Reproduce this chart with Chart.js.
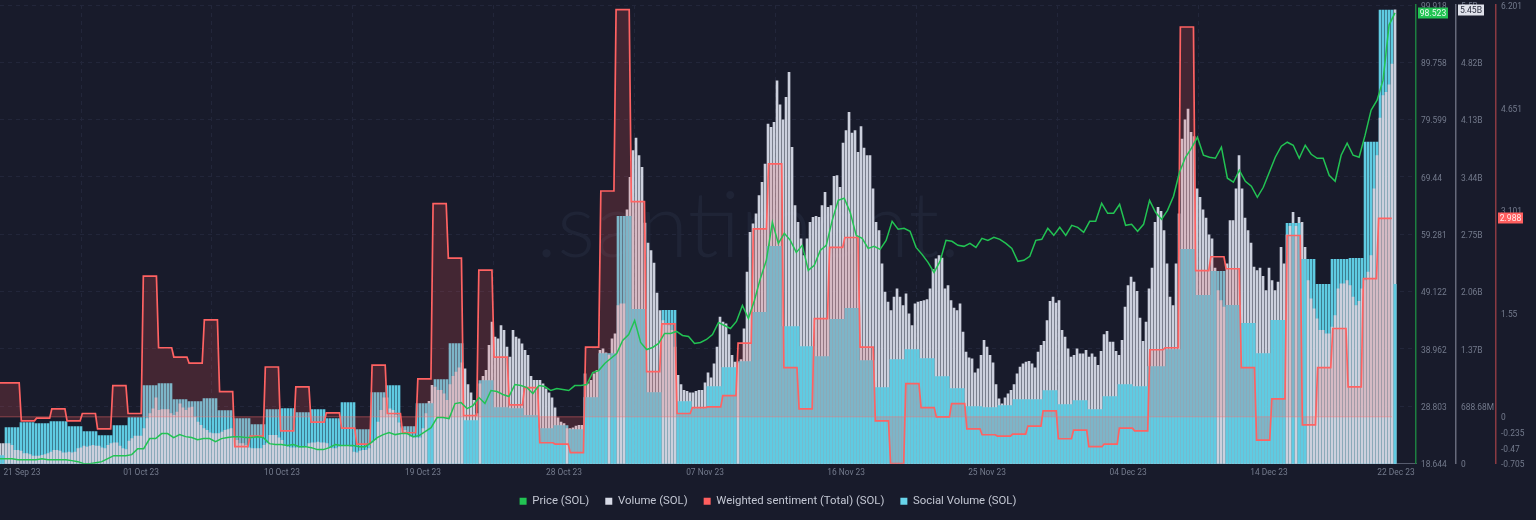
<!DOCTYPE html>
<html><head><meta charset="utf-8">
<style>html,body{margin:0;padding:0;background:#181b2b;overflow:hidden}canvas{display:block;filter:blur(.45px)}</style>
<script src="https://cdn.jsdelivr.net/npm/chart.js@4"></script></head>
<body><canvas id="c" width="1536" height="520"></canvas>
<script>
const seriesNames = ['Price (SOL)','Volume (SOL)','Weighted sentiment (Total) (SOL)','Social Volume (SOL)'];
const xTickDays = [1.44,9.25,18.49,27.74,36.98,46.23,55.48,64.72,73.97,83.21,91.54];
const xTickLabels = ['21 Sep 23','01 Oct 23','10 Oct 23','19 Oct 23','28 Oct 23','07 Nov 23','16 Nov 23','25 Nov 23','04 Dec 23','14 Dec 23','22 Dec 23'];
const priceTicks = [18.644,28.803,38.962,49.122,59.281,69.44,79.599,89.758,99.918];
const priceTickLabels = ['18.644','28.803','38.962','49.122','59.281','69.44','79.599','89.758','99.918'];
const volumeTicks = [0,0.68868,1.37736,2.06604,2.75472,3.4434,4.13208,4.82076,5.50944];
const volumeTickLabels = ['0','688.68M','1.37B','2.06B','2.75B','3.44B','4.13B','4.82B','5.5B'];
const sentimentTicks = [-0.705,-0.47,-0.235,0,1.55,3.101,4.651,6.201];
const sentimentTickLabels = ['-0.705','-0.47','-0.235','0','1.55','3.101','4.651','6.201'];
const lastPrice = 98.523, lastVolume = 5.45, lastSentiment = 2.988;

// Price, USD, evenly sampled over the period
const price = [19.53,19.53,19.53,19.35,19.35,19.35,19.35,19.53,19.35,19.35,19.35,19.35,19.18,19.00,18.64,18.64,18.82,19.00,19.53,20.06,20.06,20.06,20.24,21.30,21.30,23.08,23.08,23.97,23.97,23.26,23.79,23.43,23.26,22.90,23.08,23.08,22.55,23.08,23.26,23.43,23.43,
23.26,23.26,23.43,23.26,22.19,22.02,22.02,21.84,22.02,21.66,21.66,21.48,21.13,21.13,21.48,22.02,21.84,21.84,21.84,21.66,21.66,
22.37,23.26,23.79,24.14,23.79,23.97,23.97,23.43,23.61,24.32,25.03,26.81,26.81,26.63,29.29,29.47,28.40,28.94,30.36,
29.29,31.60,31.42,30.89,30.53,32.66,32.48,32.13,31.07,32.48,32.31,31.60,31.95,31.78,31.60,32.48,32.48,32.66,34.79,35.15,36.39,37.28,38.16,40.47,41.53,44.02,40.11,38.87,39.23,39.94,41.71,41.71,42.07,41.36,41.18,39.94,40.11,40.65,41.53,43.66,
43.13,42.60,43.84,46.68,44.37,47.57,51.47,54.67,61.41,57.68,59.46,58.21,56.08,57.33,52.89,53.78,56.44,57.33,61.76,65.31,65.67,63.18,59.10,58.57,56.79,57.15,56.62,58.21,61.59,60.17,60.34,59.81,56.97,55.73,54.31,52.54,54.49,58.21,58.04,57.33,
57.15,57.68,56.97,58.57,58.21,58.75,58.39,57.68,56.79,54.49,54.67,55.38,58.21,58.39,60.34,59.10,60.52,59.10,60.88,60.52,59.63,61.59,61.59,64.78,63.01,63.01,64.60,60.88,61.05,59.81,61.05,65.31,63.18,61.94,63.54,
66.02,70.28,72.94,74.54,76.49,73.30,72.94,72.76,74.72,69.22,68.51,70.63,68.68,67.80,65.84,67.62,70.28,72.94,74.89,75.60,75.07,72.76,75.07,73.47,72.76,72.76,69.75,68.68,73.30,75.43,73.30,72.94,76.85,81.28,83.06,86.60,96.36,98.523];

// Volume, billions
const volume = [.24,.24,.24,.24,.22,.16,.16,.15,.12,.12,.11,.09,.09,.09,.10,.11,.12,.14,.16,.16,.15,.13,.13,.14,.13,.14,.18,.19,.21,.20,.21,.22,.21,.21,.19,.18,.22,.24,.25,.25,.21,.18,.17,.27,.30,.33,.33,.33,.42,.54,
.60,.66,.79,.64,.65,.65,.65,.60,.58,.62,.72,.67,.64,.67,.68,.56,.50,.46,.42,.40,.37,.36,.36,.36,.38,.40,.41,.42,.31,.28,.24,.24,.22,.19,.18,.18,.18,.18,.22,.24,.34,.34,.34,.31,.28,.21,
.20,.19,.19,.19,.19,.19,.20,.24,.25,.25,.26,.25,.25,.24,.19,.18,.18,.20,.22,.22,.22,.20,.14,.13,.15,.16,.16,.18,.25,.28,.50,.64,.79,.79,.66,.64,.58,.49,.43,.40,.36,.32,.31,.31,.31,.42,
.60,.75,.94,.92,.88,.88,.84,.76,.95,1.05,1.10,1.15,1.21,1.14,.95,.85,.76,.60,.96,1.05,1.12,1.42,1.70,1.52,1.50,1.66,1.60,1.40,1.28,1.60,1.52,1.50,1.44,1.36,1.30,1.05,1.0,1.0,1.0,.96,.90,.85,.79,.67,.55,.50,
.48,.42,.42,.43,.45,.46,.46,1.08,.96,1.0,1.08,1.12,1.36,1.38,1.33,1.30,1.50,1.56,1.90,1.92,1.92,3.05,3.44,3.76,3.91,3.70,3.56,2.89,2.65,2.56,2.41,2.05,1.84,1.72,1.68,1.66,1.60,1.40,1.06,.95,.88,.87,.85,.85,.87,.88,.88,.97,1.09,1.03,1.20,
1.40,1.76,1.70,1.68,1.55,1.30,1.22,1.21,1.25,1.62,2.30,2.78,2.88,3.0,3.22,3.38,3.6,4.08,4.04,4.1,4.6,4.31,4.13,4.4,4.70,3.8,3.1,2.9,2.7,2.5,2.7,2.9,2.96,2.97,2.96,3.1,3.26,3.08,3.1,3.45,3.46,3.32,3.85,4.0,4.22,3.97,4.0,3.74,4.05,3.79,3.7,3.7,3.3,2.9,2.8,
2.4,2.06,1.94,1.84,2.0,2.1,2.0,1.9,2.04,1.8,1.66,1.92,1.94,1.95,1.96,1.97,2.1,2.33,2.46,2.5,2.47,2.1,2.14,1.96,1.87,1.84,1.92,1.58,1.34,1.27,1.26,1.09,1.14,1.30,1.48,1.40,1.30,1.21,.95,.78,.72,.79,.84,.88,.95,1.08,1.16,1.20,1.22,1.23,
1.20,1.15,1.34,1.42,1.47,1.72,1.95,2.0,1.93,1.96,1.6,1.52,1.38,1.28,1.3,1.38,1.32,1.32,1.36,1.28,1.32,1.28,1.18,1.35,1.55,1.59,1.46,1.46,1.35,1.30,1.48,1.88,2.14,2.24,2.18,2.07,1.75,1.47,1.7,2.1,2.35,2.9,3.08,3.03,2.8,
2.4,2.0,1.9,2.4,3.0,3.9,4.13,4.26,3.98,3.93,3.3,3.2,3.05,2.95,2.75,2.7,2.35,2.08,1.96,1.88,2.4,2.92,2.92,3.3,3.7,3.3,2.95,2.8,2.65,2.36,2.32,2.35,2.25,2.08,2.35,2.2,2.08,2.18,2.6,2.4,2.75,2.85,3.02,2.85,2.96,2.9,2.6,2.2,1.98,1.86,
1.74,1.60,1.6,1.56,1.56,1.64,1.78,2.1,2.16,2.16,2.2,2.14,2.0,1.9,1.95,2.1,2.2,2.3,2.5,3.3,3.7,4.15,4.42,4.46,4.55,4.8,5.45];

// Weighted sentiment, one value per day block
const sentiment = [.51,.51,-.06,-.02,.12,-.06,.05,-.18,.47,.05,2.12,1.04,.90,.81,1.46,.38,-.45,-.29,.75,-.21,.45,-.08,.06,-.17,-.41,.78,.05,-.24,.57,3.21,2.39,.02,2.21,.90,.18,.44,-.39,-.41,-.54,1.05,3.40,6.13,3.24,.68,1.40,.05,.14,.15,.32,1.11,2.83,3.81,.74,.12,1.48,2.55,2.70,1.05,-.06,-.705,.50,.14,0,.20,-.18,-.27,-.29,-.26,-.14,.09,-.33,-.20,-.45,-.41,-.17,-.21,1.01,1.04,5.87,2.20,2.41,2.23,.74,-.35,.27,2.73,-.12,.74,1.33,.45,2.08,2.988];

// Social volume, one value per day block (relative units, axis hidden in the source)
const socialVolume = [8,36,41,40,42,37,32,28,38,46,78,80,64,62,65,53,45,39,54,55,51,54,45,61,34,71,78,37,60,84,120,43,83,56,55,48,35,38,34,66,110,247,154,71,153,62,55,77,96,102,151,217,137,117,107,144,155,103,76,104,114,105,87,75,57,56,58,64,64,73,59,63,54,67,79,77,97,114,214,168,192,158,140,110,143,240,204,179,204,205,321,453,179];
const socialMax = 458;

const barStepDays = 3/15.25, firstBlockDays = 0.328, xMaxDays = 92.85;
const barDays = volume.map((_,i)=>i*barStepDays);
const spanDays = barDays[barDays.length-1];
const blockStart = i => i===0 ? 0 : firstBlockDays + i - 1;
const blockOf = d => d < firstBlockDays ? 0 : Math.min(socialVolume.length-1, Math.floor(d-firstBlockDays)+1);

const volumeMax = volumeTicks[volumeTicks.length-1];
const socialAt = barDays.map(d=>socialVolume[blockOf(d)]);
const volumePts = barDays.map((d,i)=>({x:d,y:volume[i]}));
const socialBackPts = barDays.map((d,i)=>({x:d,y:socialAt[i]}));
const socialFrontPts = barDays.map((d,i)=>({x:d,y:(socialAt[i]/socialMax < volume[i]/volumeMax) ? socialAt[i] : null}));
const pricePts = price.map((v,i)=>({x:i*spanDays/(price.length-1),y:v}));
const sentimentPts = sentiment.flatMap((v,i)=>[{x:blockStart(i)+(i===0?0:.07),y:v},{x:blockStart(i+1)-.07,y:v}]);
const zeroPts = [{x:0,y:0},{x:spanDays-.2,y:0}];

const colPrice='#22c353', colVolume='#ccd0dd', colSent='#ff6262', colSocial='#5fcbe2';
const legendColors=[colPrice,'#d7dae6','#ff5f5f','#68d4ea'];
const tickFont={family:'Roboto',size:8.4}, tickColor='#737a8c';

const fixedTicks=(values)=>function(s){s.ticks=values.map(v=>({value:v}));};
const rightAxis=(values,labels,min,max,weight,borderColor,extra)=>Object.assign({
  type:'linear',position:'right',min,max,weight,
  afterBuildTicks:fixedTicks(values),
  afterFit:s=>{s.width=40;s.paddingTop=0;s.paddingBottom=0;},
  ticks:{autoSkip:false,font:tickFont,color:tickColor,padding:5,labelOffset:1.5,
    callback:v=>{const i=values.indexOf(v);return i>=0?labels[i]:'';}},
  grid:{display:false,drawTicks:false},
  border:{display:true,color:borderColor,width:1.5}
},extra||{});

const overlay={id:'overlay',
  beforeDraw(chart){
    const {ctx}=chart;ctx.save();
    ctx.fillStyle='#1f2436';ctx.font='300 90px Lato';ctx.textBaseline='alphabetic';ctx.textAlign='left';
    ctx.fillText('.santiment.',536,257);ctx.restore();
  },
  afterDraw(chart){
    const {ctx,scales}=chart;
    const badge=(x,w,y,bg,fg,text)=>{ctx.fillStyle=bg;ctx.fillRect(x,Math.round(y)-5.5,w,11);
      ctx.fillStyle=fg;ctx.font='8.6px Roboto';ctx.textAlign='center';ctx.textBaseline='middle';ctx.fillText(text,x+w/2,Math.round(y)+.5);};
    ctx.save();
    badge(1418,30,scales.price.getPixelForValue(lastPrice),'#22c353','#e9fbef',String(lastPrice));
    badge(1458,26,scales.vol.getPixelForValue(lastVolume),'#dfe1ea','#2a2d3d',lastVolume+'B');
    badge(1498,25,scales.sent.getPixelForValue(lastSentiment),'#ff5f5f','#ffecec',String(lastSentiment));
    ctx.restore();
  }};

new Chart(document.getElementById('c'),{
  data:{datasets:[
    {type:'line',label:seriesNames[0],data:pricePts,xAxisID:'x',yAxisID:'price',borderColor:colPrice,backgroundColor:colPrice,borderWidth:1.5,pointRadius:0,tension:0,order:0},
    {type:'bar',label:seriesNames[1],data:volumePts,xAxisID:'x',yAxisID:'vol',backgroundColor:colVolume,barThickness:2,grouped:false,order:4},
    {type:'line',label:seriesNames[2],data:sentimentPts,xAxisID:'x',yAxisID:'sent',borderColor:colSent,backgroundColor:'rgba(255,91,91,0.19)',borderWidth:1.7,pointRadius:0,tension:0,fill:{value:0},order:2},
    {type:'bar',label:seriesNames[3],data:socialBackPts,xAxisID:'x',yAxisID:'soc',backgroundColor:colSocial,barThickness:2,grouped:false,order:5},
    {type:'bar',label:'',data:socialFrontPts,xAxisID:'x',yAxisID:'soc',backgroundColor:colSocial,barThickness:2,grouped:false,order:3},
    {type:'line',label:'',data:zeroPts,xAxisID:'x',yAxisID:'sent',borderColor:'rgba(255,110,110,0.45)',borderWidth:1,pointRadius:0,order:1}
  ]},
  options:{
    responsive:false,animation:false,devicePixelRatio:1,parsing:true,
    layout:{autoPadding:false,padding:{top:5,left:0,right:0,bottom:3}},
    plugins:{
      tooltip:{enabled:false},
      legend:{position:'bottom',labels:{
        font:{family:'Roboto',size:11.35},color:'#c3c7d3',boxWidth:7,boxHeight:7,padding:16,
        filter:it=>it.text!=='',
        generateLabels:chart=>chart.data.datasets.map((d,i)=>({text:d.label,fillStyle:legendColors[i]||'#000',strokeStyle:'transparent',lineWidth:0,fontColor:'#c3c7d3',datasetIndex:i,hidden:false}))
      }}
    },
    scales:{
      x:{type:'linear',min:0,max:xMaxDays,offset:false,
        afterBuildTicks:fixedTicks(xTickDays),
        afterFit:s=>{s.height=16;s.paddingLeft=0;s.paddingRight=0;},
        ticks:{autoSkip:false,maxRotation:0,font:tickFont,color:tickColor,padding:4,
          callback:v=>{const i=xTickDays.indexOf(v);return i>=0?xTickLabels[i]:'';}},
        grid:{drawTicks:false,color:c=>(c.index===0||c.index===10)?'transparent':'#22263a',lineWidth:1},
        border:{display:true,color:'#565b6d',width:1,dash:[4,4]}
      },
      price:rightAxis(priceTicks,priceTickLabels,18.644,99.918,1,'#1d7f40',{
        grid:{display:true,drawTicks:false,color:'#22263a',lineWidth:1},
        border:{display:true,color:'#1d7f40',width:1.5,dash:[4,4]}
      }),
      vol:rightAxis(volumeTicks,volumeTickLabels,0,volumeMax,2,'#666a7b'),
      sent:rightAxis(sentimentTicks,sentimentTickLabels,-0.705,6.201,3,'#8a3a42'),
      soc:{type:'linear',display:false,min:0,max:socialMax}
    }
  },
  plugins:[overlay]
});
</script></body></html>
